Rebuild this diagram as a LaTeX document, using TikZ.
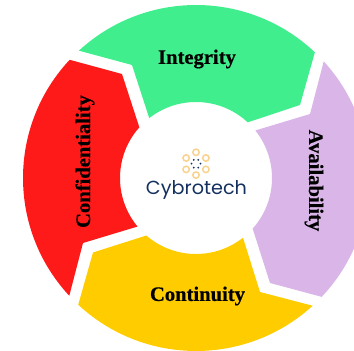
\documentclass[tikz,border=0pt]{standalone}
\usepackage{fontspec}
\setmainfont[BoldFeatures={FakeBold=0.5}]{Liberation Serif}
\newfontfamily\logofont{Poppins}
\definecolor{segGreen}{HTML}{41EE8E}
\definecolor{segRed}{HTML}{FF1A1A}
\definecolor{segPurple}{HTML}{DAB6E8}
\definecolor{segYellow}{HTML}{FFCC00}
\definecolor{logoNavy}{HTML}{14305F}
\definecolor{logoRing}{HTML}{F9D28F}
\tikzset{
  seglabel/.style={font=\fontsize{20.6}{24}\selectfont\bfseries, text=black, inner sep=0pt},
  ring/.style={draw=logoRing, line width=1.5pt, fill=none},
  logodot/.style={fill=logoNavy, draw=none}
}
\begin{document}
\begin{tikzpicture}[x=1pt,y=1pt]
\useasboundingbox (0,0) rectangle (354,351);
\clip (0,0) rectangle (354,351);
\begin{scope}[shift={(196,173)}]
  \fill[segGreen] (132.6:173) arc[start angle=132.6,end angle=46.6,radius=173pt] -- (104,73) -- (47.1:76) arc[start angle=47.1,end angle=128,radius=76pt] -- (-64,113) -- cycle;
  \fill[segPurple] (42.4:173) arc[start angle=42.4,end angle=-43.4,radius=173pt] -- (74,-105) -- (-41.8:76) arc[start angle=-41.8,end angle=38.7,radius=76pt] -- (114,64) -- cycle;
  \fill[segYellow] (227.1:173) arc[start angle=227.1,end angle=312.4,radius=173pt] -- (64,-114) -- (308.2:76) arc[start angle=308.2,end angle=229.2,radius=76pt] -- (-103,-74.5) -- cycle;
  \fill[segRed] (136.9:173) -- (-74,104) -- (138.2:76) arc[start angle=138.2,end angle=219.7,radius=76pt] -- (-113,-65) -- (222.9:173) arc[start angle=222.9,end angle=136.9,radius=173pt] -- cycle;
\end{scope}
\node[seglabel] (integrity) at (197,292) {Integrity};
\node[seglabel] (continuity) at (197.5,55) {Continuity};
\node[seglabel,rotate=90] (confidentiality) at (85,189.5) {Confidentiality};
\node[seglabel,rotate=-90] (availability) at (314,170.5) {Availability};
\begin{scope}[shift={(196,187.3)}]
  \foreach \a in {30,90,150,210,270,330} {
    \draw[ring] (\a:11.4) circle[radius=3.2pt];
  }
  \foreach \a in {0,60,120,180,240,300} {
    \fill[logodot] (\a:4.5) circle[radius=1pt];
  }
\end{scope}
\node[inner sep=0pt,text=logoNavy] (logo) at (196.5,161) {\resizebox{101pt}{14pt}{\logofont Cybrotech}};
\end{tikzpicture}
\end{document}
